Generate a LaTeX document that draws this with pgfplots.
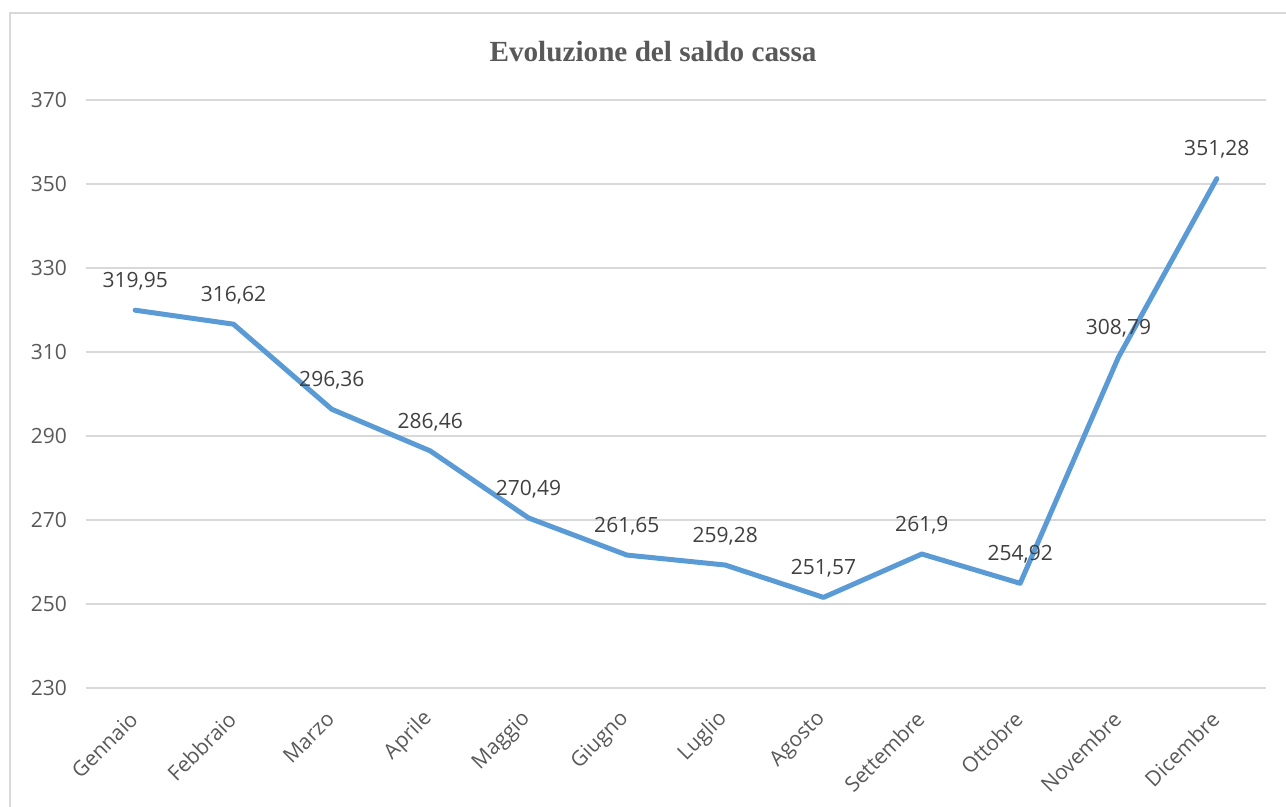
\documentclass[border=0pt]{standalone}
\usepackage{pgfplots}
\pgfplotsset{compat=1.18}
\usepackage{pgfplotstable}
\usepackage{fontspec}
\setmainfont{Open Sans}
\newfontfamily\titlefont{Liberation Serif}
\definecolor{txtgray}{HTML}{595959}
\definecolor{lblgray}{HTML}{404040}
\definecolor{gridgray}{HTML}{D9D9D9}
\definecolor{lineblue}{HTML}{5B9BD5}
\pgfplotstableread{
x y lab
0 319.95 319,95
1 316.62 316,62
2 296.36 296,36
3 286.46 286,46
4 270.49 270,49
5 261.65 261,65
6 259.28 259,28
7 251.57 251,57
8 261.9 261,9
9 254.92 254,92
10 308.79 308,79
11 351.28 351,28
}\datatable
\begin{document}
\begin{tikzpicture}
\useasboundingbox (-43pt,-59.5pt) rectangle (600pt,344pt);
\draw[gridgray, line width=0.75pt] (-38pt,-70pt) -- (-38pt,337.5pt) -- (620pt,337.5pt);
\begin{axis}[
  at={(0pt,0pt)}, anchor=south west,
  scale only axis,
  width=590pt, height=294pt,
  xmin=-0.5, xmax=11.5,
  ymin=230, ymax=370,
  ytick={230,250,...,370},
  xtick={0,...,11},
  xticklabels={Gennaio,Febbraio,Marzo,Aprile,Maggio,Giugno,Luglio,Agosto,Settembre,Ottobre,Novembre,Dicembre},
  axis line style={draw=none},
  major tick style={draw=none},
  ymajorgrids,
  grid style={gridgray, line width=0.9pt},
  /pgf/number format/assume math mode=true,
  tick label style={font=\fontsize{10.5}{12}\selectfont, text=txtgray},
  yticklabel style={anchor=east, xshift=-6pt},
  xticklabel style={rotate=45, anchor=east, xshift=-6.8pt, yshift=-9.3pt},
  clip=false,
  nodes near coords,
  point meta=explicit symbolic,
  nodes near coords style={anchor=center, yshift=14.5pt, font=\fontsize{10.5}{12}\selectfont, text=lblgray},
]
\addplot[lineblue, line width=2.5pt, line join=round, line cap=round, mark=none] table[x=x, y=y, meta=lab] {\datatable};
\end{axis}
\node[text=txtgray, font=\titlefont\bfseries\fontsize{14.6}{16}\selectfont] at (283.5pt,318pt) {Evoluzione del saldo cassa};
\end{tikzpicture}
\end{document}
